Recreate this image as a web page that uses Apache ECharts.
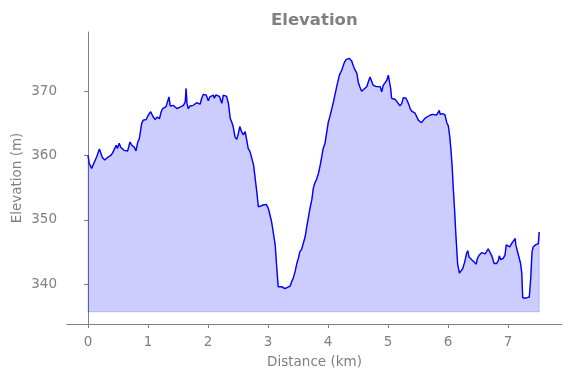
<!DOCTYPE html>
<html>
<head>
<meta charset="utf-8">
<script src="https://cdn.jsdelivr.net/npm/echarts@6/dist/echarts.min.js"></script>
<style>html,body{margin:0;padding:0;background:#fff}#c{width:571px;height:378px}</style>
</head>
<body>
<div id="c"></div>
<script>
// Distance along the route (km)
const distanceKm = [0,0.02,0.06,0.09,0.145,0.19,0.21,0.24,0.28,0.34,0.38,0.41,0.44,0.47,0.49,0.52,0.545,0.57,0.60,0.63,0.66,0.70,0.73,0.77,0.80,0.83,0.855,0.895,0.92,0.97,1.005,1.045,1.08,1.12,1.155,1.19,1.22,1.245,1.27,1.30,1.33,1.35,1.37,1.395,1.42,1.45,1.48,1.53,1.59,1.62,1.635,1.65,1.67,1.70,1.755,1.81,1.84,1.87,1.895,1.92,1.97,2.005,2.03,2.06,2.09,2.105,2.13,2.155,2.19,2.23,2.255,2.28,2.31,2.34,2.37,2.395,2.42,2.45,2.48,2.505,2.53,2.56,2.59,2.62,2.645,2.67,2.70,2.73,2.76,2.81,2.84,2.87,2.92,2.97,3.005,3.03,3.06,3.09,3.12,3.145,3.17,3.20,3.23,3.255,3.28,3.31,3.37,3.395,3.42,3.45,3.48,3.505,3.53,3.56,3.59,3.62,3.645,3.67,3.70,3.73,3.755,3.78,3.81,3.84,3.87,3.895,3.92,3.95,3.98,4.005,4.03,4.09,4.145,4.19,4.23,4.27,4.30,4.33,4.355,4.395,4.42,4.45,4.48,4.505,4.53,4.56,4.59,4.645,4.67,4.70,4.73,4.755,4.78,4.81,4.84,4.87,4.895,4.92,4.95,4.98,5.005,5.02,5.045,5.06,5.12,5.155,5.20,5.23,5.255,5.30,5.34,5.37,5.395,5.45,5.48,5.505,5.53,5.56,5.59,5.63,5.67,5.71,5.745,5.81,5.84,5.855,5.87,5.91,5.95,5.98,6.005,6.03,6.05,6.07,6.09,6.11,6.13,6.16,6.19,6.22,6.245,6.28,6.31,6.33,6.35,6.395,6.43,6.47,6.49,6.52,6.56,6.59,6.62,6.645,6.67,6.70,6.73,6.755,6.77,6.81,6.84,6.855,6.88,6.92,6.95,6.97,6.995,7.03,7.06,7.09,7.12,7.13,7.16,7.19,7.21,7.23,7.245,7.28,7.32,7.34,7.355,7.38,7.40,7.42,7.46,7.505,7.52];
// Elevation (m)
const elevationM = [360.0,358.8,358.0,358.1,359.8,361.0,360.8,359.7,359.3,359.8,360.0,360.4,360.3,361.6,361.1,361.9,361.3,361.6,360.8,361.1,360.7,362.1,361.6,361.3,360.7,362.1,362.6,365.0,365.5,365.6,366.3,366.8,366.1,365.6,366.0,365.7,366.8,367.3,367.2,367.6,367.6,369.1,367.7,367.7,367.8,367.7,367.3,367.5,367.8,368.3,370.4,368.1,367.3,367.7,367.8,368.2,368.3,368.0,368.9,369.5,369.4,368.5,369.1,369.2,369.4,368.9,369.4,369.1,369.2,368.1,369.4,369.6,369.2,368.1,365.8,365.2,364.5,362.9,362.5,363.4,364.5,363.7,363.2,363.7,363.6,361.1,360.6,360.3,358.5,354.6,352.0,351.8,352.3,352.4,351.8,351.6,349.7,347.9,346.1,342.7,339.6,339.3,339.6,339.4,339.3,339.6,339.7,340.4,340.9,341.9,343.2,344.0,345.0,345.4,345.5,347.4,348.9,350.2,351.8,353.1,354.9,355.7,356.3,357.2,358.5,359.8,361.1,361.9,363.7,365.2,366.0,368.3,370.7,372.5,373.3,374.4,374.9,375.2,375.1,374.7,374.0,373.3,372.8,371.4,370.7,370.0,370.2,370.7,371.4,372.2,372.1,370.9,370.8,370.7,370.4,370.7,369.9,370.9,371.3,371.7,372.5,372.2,370.4,368.9,368.7,368.3,367.7,368.1,369.0,368.9,368.1,367.3,366.9,366.6,366.0,365.5,365.2,365.1,365.5,365.9,366.1,366.3,366.4,366.3,366.4,367.0,366.4,366.5,366.3,365.1,364.6,362.9,360.8,358.2,354.6,351.5,347.9,343.2,341.7,341.9,342.4,343.5,344.8,345.2,344.2,343.8,343.5,343.1,344.0,344.5,344.9,345.0,344.7,344.8,345.5,345.5,344.4,344.2,343.2,343.2,343.7,344.4,343.8,344.0,344.5,346.1,345.8,345.8,346.3,346.6,347.1,346.1,345.0,344.7,343.2,341.7,337.9,337.8,337.9,337.6,338.0,341.1,345.0,345.8,346.1,346.3,348.1];
// Fill baseline (m) and tick values
const fillBase = 335.7;
const xTicks = [0,1,2,3,4,5,6,7];
const yTicks = [340,350,360,370];

const pts = distanceKm.map((d,i)=>[d, elevationM[i]]);
const n = distanceKm.length;
const outline = [[distanceKm[0], fillBase]].concat(pts, [[distanceKm[n-1], fillBase],[distanceKm[0], fillBase]]);

const gray = '#808080';
const font = 'DejaVu Sans';
const chart = echarts.init(document.getElementById('c'), null, {renderer:'canvas'});
chart.setOption({
  animation:false,
  backgroundColor:'#fff',
  title:{text:'Elevation', left:266, top:7,
    textStyle:{color:gray, fontFamily:font, fontWeight:'bold', fontSize:16.5}},
  grid:{left:67, right:9, top:32, bottom:54, containLabel:false, outerBoundsMode:'none'},
  xAxis:{type:'value', min:-0.35, max:7.9,
    name:'Distance (km)', nameLocation:'middle', nameGap:31, nameMoveOverlap:false,
    nameTextStyle:{color:gray, fontFamily:font, fontSize:13.5},
    axisLine:{show:true, lineStyle:{color:gray, width:1}},
    axisTick:{show:true, length:4, customValues:xTicks, lineStyle:{color:gray}},
    axisLabel:{color:gray, fontFamily:font, fontSize:13.5, margin:11, customValues:xTicks},
    splitLine:{show:false}},
  yAxis:{type:'value', min:333.8, max:379.2,
    name:'Elevation (m)', nameLocation:'middle', nameGap:43, nameMoveOverlap:false,
    nameTextStyle:{color:gray, fontFamily:font, fontSize:13.5},
    axisLine:{show:true, lineStyle:{color:gray, width:1}},
    axisTick:{show:true, length:4, customValues:yTicks, lineStyle:{color:gray}},
    axisLabel:{color:gray, fontFamily:font, fontSize:13.5, margin:10, customValues:yTicks},
    splitLine:{show:false}},
  series:[
    {type:'line', data:pts, showSymbol:false, symbol:'none',
      lineStyle:{width:0, color:'rgba(0,0,255,0)'},
      areaStyle:{color:'rgba(0,0,255,0.2)', opacity:1, origin:fillBase}, z:1},
    {type:'line', data:outline, showSymbol:false, symbol:'none',
      lineStyle:{width:1, color:'rgba(0,0,255,0.2)'}, z:2},
    {type:'line', data:pts, showSymbol:false, symbol:'none',
      lineStyle:{width:1.4, color:'#0000ff'}, z:3}
  ]
});
</script>
</body>
</html>
